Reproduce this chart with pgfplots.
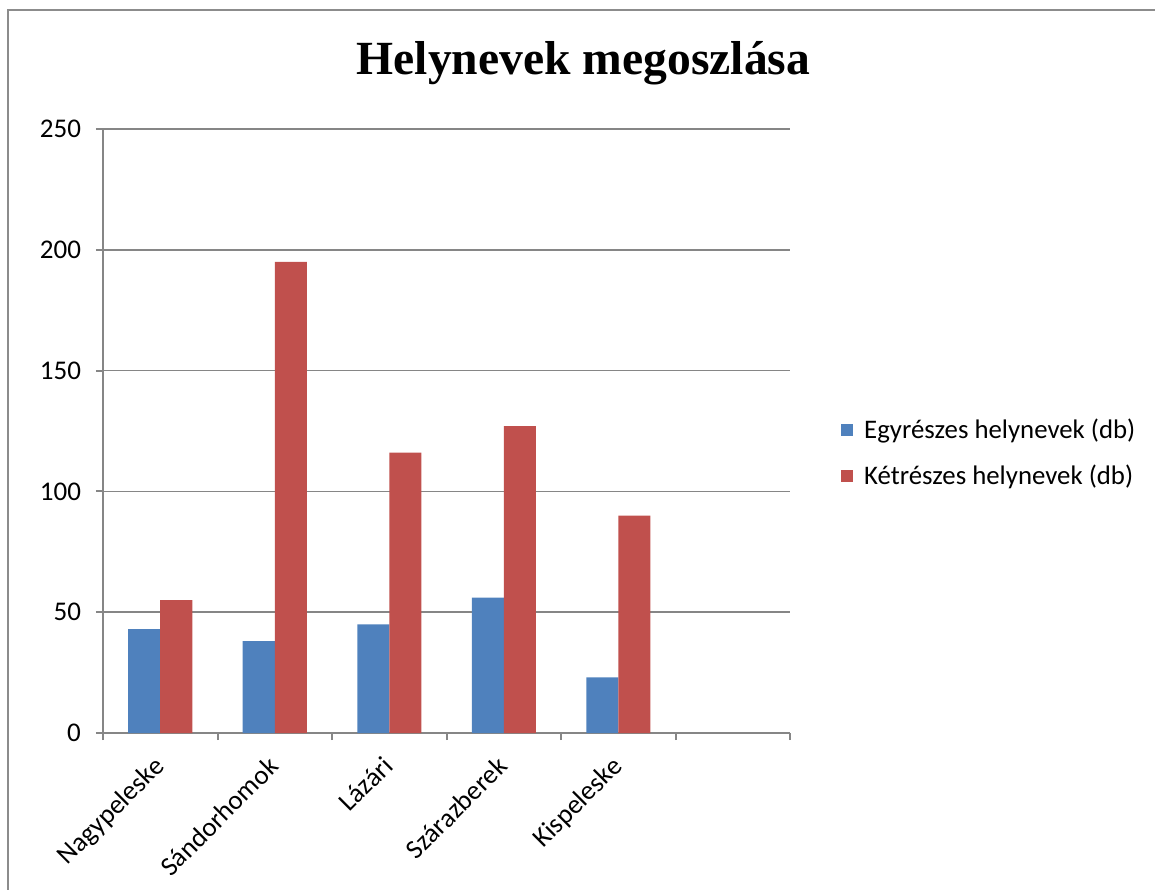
\documentclass[border=0pt]{standalone}
\usepackage{pgfplots}
\pgfplotsset{compat=1.18}
\usepackage{fontspec}
\setmainfont{Carlito}
\newfontfamily\titlefont{Liberation Serif}
\definecolor{sblue}{HTML}{4F81BD}
\definecolor{sred}{HTML}{C0504D}
\definecolor{axisgray}{HTML}{868686}
\definecolor{framegray}{HTML}{8C8C8C}
\begin{document}
\begin{tikzpicture}
\begin{axis}[
  scale only axis, width=343.5pt, height=302pt,
  ymin=0, ymax=250, ytick={0,50,...,250},
  xmin=-0.5, xmax=5.5,
  axis x line*=bottom, axis y line*=left,
  axis line style={draw=axisgray, line width=1pt, -},
  ybar=0pt, bar width=16pt,
  ymajorgrids, grid style={draw=axisgray, line width=0.8pt},
  xtick={-0.5,0.5,...,5.5}, xticklabels={},
  extra x ticks={0,1,2,3,4},
  extra x tick labels={Nagypeleske,Sándorhomok,Lázári,Szárazberek,Kispeleske},
  extra x tick style={major tick length=0pt, xticklabel style={xshift=-4pt, yshift=-9.3pt, rotate=45, anchor=north east, inner sep=1pt}},
  tick align=outside, major tick length=3.5pt,
  tick style={draw=axisgray, line width=1pt},
  ticklabel style={font=\fontsize{13.5}{16}\selectfont},
  /pgf/number format/assume math mode=true,
  yticklabel style={xshift=-4pt},
  legend style={draw=none, at={(1.074,0.4636)}, anchor=west, font=\fontsize{13.4}{16}\selectfont,
    row sep=7.5pt, inner sep=0pt, /tikz/every even column/.append style={column sep=0pt}},
  legend cell align=left,
  legend image code/.code={\fill[#1] (0pt,-3pt) rectangle (6pt,3pt); \path (9.5pt,0pt);},
]
\addplot[fill=sblue, draw=none] coordinates {(0,43) (1,38) (2,45) (3,56) (4,23)};
\addplot[fill=sred, draw=none] coordinates {(0,55) (1,195) (2,116) (3,127) (4,90)};
\legend{Egyrészes helynevek (db), Kétrészes helynevek (db)}
\end{axis}
\node[anchor=base, inner sep=0pt] at (240.25pt,329pt) {\titlefont\bfseries\fontsize{23.8}{28}\selectfont Helynevek megoszlása};
\draw[framegray, line width=1pt] (-47.5pt,361.5pt) rectangle (540pt,-90pt);
\pgfresetboundingbox
\path[use as bounding box] (-51.5pt,-78pt) rectangle (526pt,366.5pt);
\end{tikzpicture}
\end{document}
